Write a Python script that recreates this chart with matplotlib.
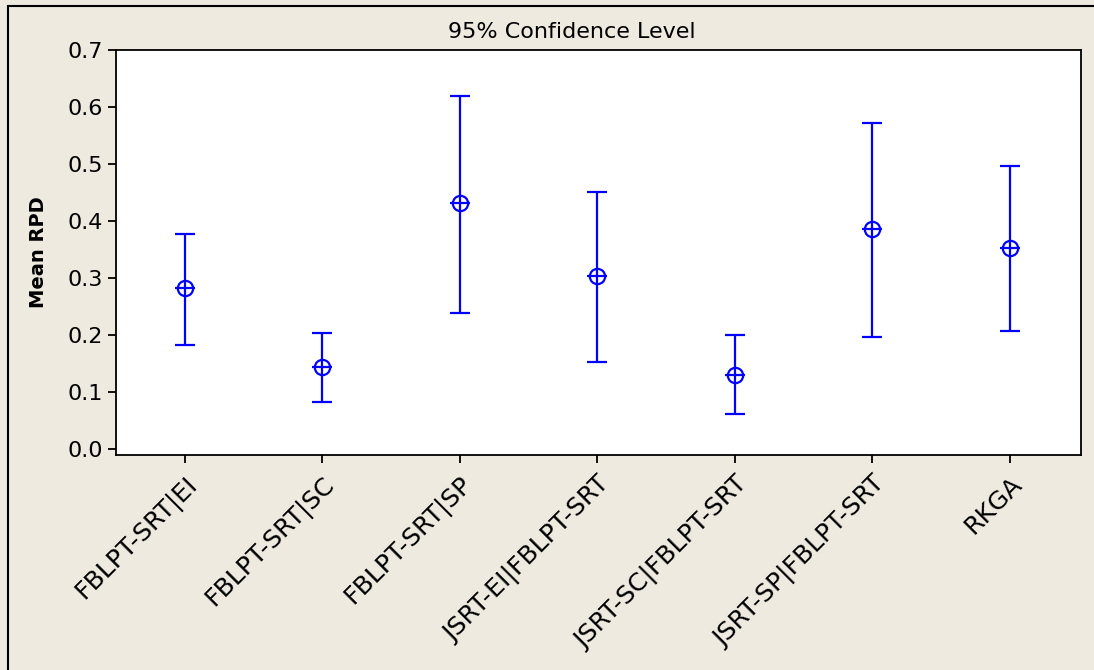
import matplotlib.pyplot as plt
from matplotlib.patches import Rectangle

groups = ["FBLPT-SRT|EI", "FBLPT-SRT|SC", "FBLPT-SRT|SP", "JSRT-EI|FBLPT-SRT",
          "JSRT-SC|FBLPT-SRT", "JSRT-SP|FBLPT-SRT", "RKGA"]
means = [0.282, 0.143, 0.431, 0.303, 0.130, 0.385, 0.353]
lower = [0.182, 0.082, 0.238, 0.153, 0.061, 0.196, 0.206]
upper = [0.377, 0.203, 0.620, 0.451, 0.199, 0.571, 0.497]
yticks = [0.0, 0.1, 0.2, 0.3, 0.4, 0.5, 0.6, 0.7]

bg = "#eeeae0"
blue = "#0000ff"

fig = plt.figure(figsize=(10.94, 6.7), dpi=100, facecolor=bg)
ax = fig.add_axes([116/1094, 1-455/670, (1081-116)/1094, (455-50)/670])
ax.set_facecolor("white")

x = list(range(len(groups)))
err_lo = [m - l for m, l in zip(means, lower)]
err_hi = [u - m for m, u in zip(means, upper)]
ax.errorbar(x, means, yerr=[err_lo, err_hi], fmt="none", ecolor=blue,
            elinewidth=1.6, capsize=7, capthick=1.6)
ax.plot(x, means, "o", ms=11, mfc="none", mec=blue, mew=1.6)
ax.plot(x, means, "_", ms=15, mec=blue, mew=1.6)

ax.set_xlim(-0.5, 6.52)
ax.set_ylim(-0.011, 0.7)
ax.set_yticks(yticks)
ax.set_yticklabels([f"{v:.1f}" for v in yticks], fontsize=16)
ax.set_xticks(x)
ax.set_xticklabels(groups, rotation=45, ha="right", rotation_mode="anchor", fontsize=18)
ax.tick_params(direction="out", length=6, width=1.3, colors="black")
ax.tick_params(axis="x", pad=6)
for s in ax.spines.values():
    s.set_linewidth(1.3)

ax.set_ylabel("Mean RPD", fontsize=14, fontweight="bold", labelpad=14)
fig.text(572/1094, 1-32/670, "95% Confidence Level", fontsize=16, ha="center", va="center")

fig.patches.append(Rectangle((8/1094, -0.1), 1.2, 1.1 - 6/670, transform=fig.transFigure,
                             fill=False, edgecolor="black", linewidth=1.5))

fig.savefig("out.png", dpi=100, facecolor=bg)
